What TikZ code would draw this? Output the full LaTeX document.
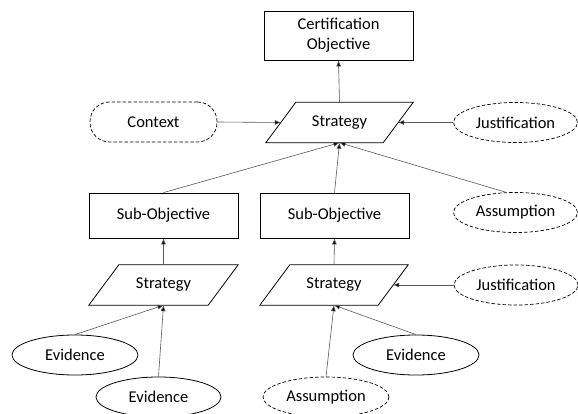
\documentclass[tikz,border=0pt]{standalone}
\usepackage{fontspec}
\setmainfont{Carlito}
\usetikzlibrary{arrows.meta,shapes.geometric}
\begin{document}
\begin{tikzpicture}[x=1pt,y=-1pt,
  every node/.style={font=\fontsize{16.5}{20}\selectfont, inner sep=0pt, align=center},
  goalbox/.style={draw, line width=0.8pt, minimum width=149, minimum height=45},
  stratbox/.style={minimum width=148, minimum height=40},
  para/.style={draw, line width=0.8pt},
  dashell/.style={ellipse, draw, line width=0.7pt, dash pattern=on 3.5pt off 2pt, minimum width=124, minimum height=40},
  solell/.style={ellipse, draw, line width=0.8pt, minimum width=126, minimum height=40},
  conn/.style={draw=black!65, line width=0.6pt, -{Latex[length=6,width=5,fill=black]}}
]
\useasboundingbox (0,0) rectangle (578,414);

% nodes
\node[goalbox, minimum height=49] (cert) at (338.5,35.5) {Certification\\Objective};
\node[stratbox, minimum width=147] (s1) at (339.5,122.5) {Strategy};
\node[draw, line width=0.7pt, dash pattern=on 3.5pt off 2pt, rounded corners=19.5, minimum width=127, minimum height=40] (ctx) at (153.5,122) {Context};
\node[dashell] (j1) at (515.5,122.5) {Justification};
\node[dashell] (a1) at (515.5,212.5) {Assumption};
\node[goalbox] (so1) at (163.5,215.5) {Sub-Objective};
\node[goalbox] (so2) at (334.5,215.5) {Sub-Objective};
\node[stratbox, minimum width=149] (s2) at (163.5,285) {Strategy};
\node[stratbox, minimum width=148] (s3) at (334,285) {Strategy};
\node[dashell] (j2) at (516,285) {Justification};
\node[solell] (e1) at (75,355) {Evidence};
\node[solell, minimum width=125] (e2) at (158.5,397) {Evidence};
\node[solell] (e3) at (416,355) {Evidence};
\node[dashell, minimum width=126] (a2) at (326,397) {Assumption};

% parallelograms
\foreach \s in {s1,s2,s3}{
  \draw[para] ([xshift=30]\s.north west) -- (\s.north east) -- ([xshift=-30]\s.south east) -- (\s.south west) -- cycle;
}

% connectors
\draw[conn] (s1.north) -- (cert.south);
\draw[conn] (ctx.east) -- ([xshift=15]s1.west);
\draw[conn] (j1.west) -- ([xshift=-15]s1.east);
\draw[conn] (so1.north) -- (s1.south);
\draw[conn] (so2.north) -- (s1.south);
\draw[conn] ([xshift=-10]a1.north) -- (s1.south);
\draw[conn] (s2.north) -- (so1.south);
\draw[conn] (s3.north) -- (so2.south);
\draw[conn] (j2.west) -- ([xshift=-15]s3.east);
\draw[conn] (e1.north) -- (s2.south);
\draw[conn] (e2.north) -- (s2.south);
\draw[conn] (a2.north) -- (s3.south);
\draw[conn] (e3.north) -- (s3.south);
\end{tikzpicture}
\end{document}
